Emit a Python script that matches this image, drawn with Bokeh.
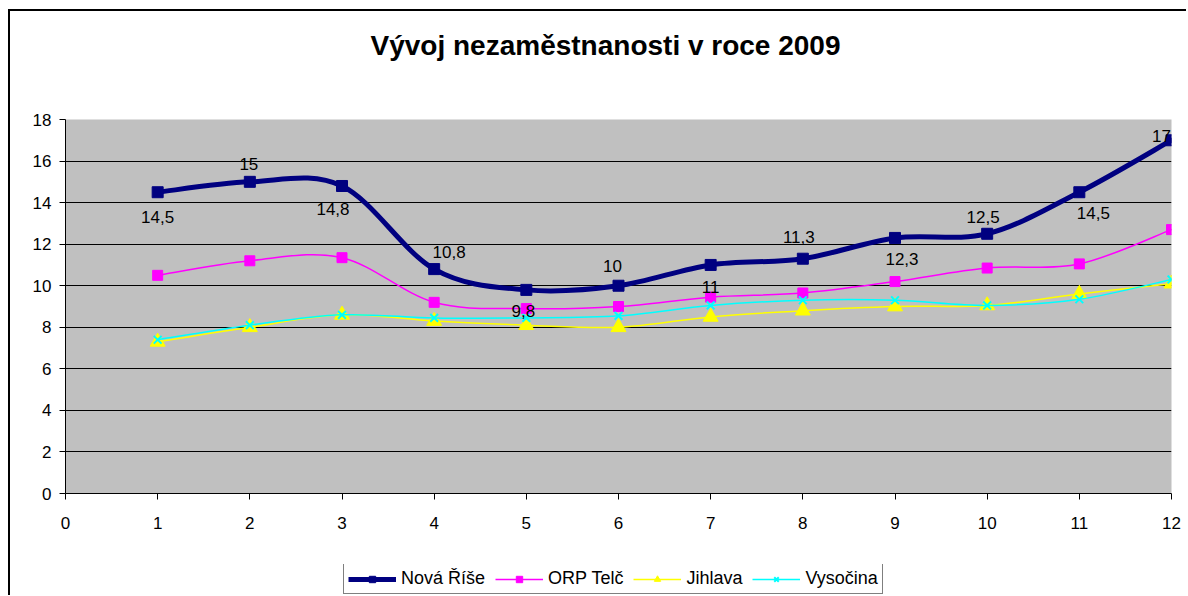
from bokeh.plotting import figure
from bokeh.layouts import column
from bokeh.models import ColumnDataSource, Legend, LegendItem, FixedTicker, Range1d, Title
from bokeh.core.properties import value
from bokeh.embed import file_html
from bokeh.resources import INLINE

# ---- data ----
months = [1, 2, 3, 4, 5, 6, 7, 8, 9, 10, 11, 12]
nova_rise = [14.5, 15, 14.8, 10.8, 9.8, 10, 11, 11.3, 12.3, 12.5, 14.5, 17]
orp_telc = [10.5, 11.2, 11.35, 9.2, 8.9, 9.0, 9.45, 9.65, 10.2, 10.85, 11.05, 12.7]
jihlava = [7.3, 8.0, 8.6, 8.3, 8.1, 8.0, 8.5, 8.8, 9.0, 9.05, 9.6, 10.1]
vysocina = [7.4, 8.1, 8.6, 8.45, 8.45, 8.55, 9.05, 9.3, 9.3, 9.05, 9.35, 10.3]
series_names = ["Nová Říše", "ORP Telč", "Jihlava", "Vysočina"]
x_ticks = [0, 1, 2, 3, 4, 5, 6, 7, 8, 9, 10, 11, 12]
y_ticks = [0, 2, 4, 6, 8, 10, 12, 14, 16, 18]
title_text = "Vývoj nezaměstnanosti v roce 2009"

# ---- styles ----
FONT = "Liberation Sans"
label_dx = [0, -1, -9, 15, -3, -6, 0, -4, 7, -4, 14, -10]
label_dy = [25, -18, 23, -17, 21, -20, 22, -22, 21, -17, 21, -4]


def smooth_segments(xs, ys):
    """Excel-like smoothed line: cubic Bezier control points (Catmull-Rom)."""
    n = len(xs)
    d = dict(x0=[], y0=[], x1=[], y1=[], cx0=[], cy0=[], cx1=[], cy1=[])
    for i in range(n - 1):
        a = i - 1 if i > 0 else i
        b = i + 2 if i + 2 < n else i + 1
        d["x0"].append(xs[i]); d["y0"].append(ys[i])
        d["x1"].append(xs[i + 1]); d["y1"].append(ys[i + 1])
        d["cx0"].append(xs[i] + (xs[i + 1] - xs[a]) / 6.0)
        d["cy0"].append(ys[i] + (ys[i + 1] - ys[a]) / 6.0)
        d["cx1"].append(xs[i + 1] - (xs[b] - xs[i]) / 6.0)
        d["cy1"].append(ys[i + 1] - (ys[b] - ys[i]) / 6.0)
    return ColumnDataSource(d)


p = figure(width=1176, height=534,
           x_range=Range1d(0, 12), y_range=Range1d(0, 18),
           output_backend="svg", toolbar_location=None,
           min_border_left=55, min_border_right=15,
           min_border_top=108, min_border_bottom=52,
           background_fill_color="#C0C0C0", border_fill_color="white",
           outline_line_color=None)

# built-in title kept empty; a spacer title sits next to the plot area and
# the real title is stacked above it
p.title.text = ""
p.title.standoff = 0
spacer = Title(text=" ", text_font=FONT, text_font_size="10px", standoff=41)
p.add_layout(spacer, "above")
main_title = Title(text=title_text, align="left", offset=305,
                   text_font=FONT, text_font_size="28px", text_font_style="bold",
                   text_color="black", standoff=10)
p.add_layout(main_title, "above")

# axes
for ax in (p.xaxis[0], p.yaxis[0]):
    ax.axis_line_color = "black"
    ax.axis_line_width = 1
    ax.major_tick_line_color = "black"
    ax.major_tick_in = 0
    ax.major_tick_out = 6
    ax.minor_tick_line_color = None
    ax.major_label_text_font = FONT
    ax.major_label_text_font_size = "17px"
    ax.major_label_text_color = "black"
p.xaxis[0].ticker = FixedTicker(ticks=x_ticks)
p.yaxis[0].ticker = FixedTicker(ticks=y_ticks)
p.xaxis[0].major_label_standoff = 17
p.yaxis[0].major_label_standoff = 8

p.xgrid.grid_line_color = None
p.ygrid.grid_line_color = "black"
p.ygrid.grid_line_width = 1
p.ygrid.ticker = FixedTicker(ticks=y_ticks)

series = [
    (series_names[0], nova_rise, "#000080", 5, "square", 11, 1, 9),
    (series_names[1], orp_telc, "#FF00FF", 1.5, "square", 10, 1, 8),
    (series_names[2], jihlava, "#FFFF00", 1.5, "triangle", 15, 1, 12),
    (series_names[3], vysocina, "#00FFFF", 1.5, "x", 11, 2, 9),
]

# legend lives in a small companion figure placed below the chart;
# its renderers use the same series but the view range keeps them out of sight
leg_fig = figure(width=700, height=31, x_range=Range1d(0, 12), y_range=Range1d(100, 101),
                 output_backend="svg", toolbar_location=None,
                 x_axis_type=None, y_axis_type=None,
                 min_border=0, outline_line_color=None,
                 background_fill_color="white", border_fill_color="white")
leg_fig.xgrid.visible = False
leg_fig.ygrid.visible = False
leg_fig.margin = (19, 0, 0, 235)

items = []
for name, vals, color, lw, marker, msize, mlw, lsize in series:
    seg = smooth_segments(months, vals)
    p.bezier(x0="x0", y0="y0", x1="x1", y1="y1",
             cx0="cx0", cy0="cy0", cx1="cx1", cy1="cy1",
             source=seg, line_color=color, line_width=lw, line_cap="round")
    p.scatter(x=months, y=vals, marker=marker, size=msize,
              fill_color=color, line_color=color, line_width=mlw)
    l_line = leg_fig.line(x=months, y=vals, line_color=color, line_width=lw)
    l_pts = leg_fig.scatter(x=months, y=vals, marker=marker, size=lsize,
                            fill_color=color, line_color=color, line_width=mlw)
    items.append(LegendItem(label=name, renderers=[l_line, l_pts]))

# data labels for Nová Říše
lab_src = ColumnDataSource(dict(
    x=months, y=nova_rise,
    t=[("%g" % v).replace(".", ",") for v in nova_rise],
    dx=label_dx, dy=label_dy))
p.text(x="x", y="y", text="t", source=lab_src, x_offset="dx", y_offset="dy",
       text_align="center", text_baseline="middle",
       text_font=value(FONT), text_font_size="17px", text_color="black")

legend = Legend(items=items, orientation="horizontal", location=(43, 1),
                border_line_color="black", border_line_width=1,
                background_fill_color="white", background_fill_alpha=1,
                label_text_font=FONT, label_text_font_size="18px",
                label_text_color="black",
                glyph_width=48, glyph_height=16, label_standoff=5,
                spacing=10, padding=4, margin=0)
leg_fig.add_layout(legend, "center")

layout = column(p, leg_fig, spacing=0)
layout.styles = {"border-top": "2px solid black", "border-left": "2px solid black",
                 "margin-left": "8px", "margin-top": "9px"}

open("out.html", "w").write(file_html(layout, INLINE))
